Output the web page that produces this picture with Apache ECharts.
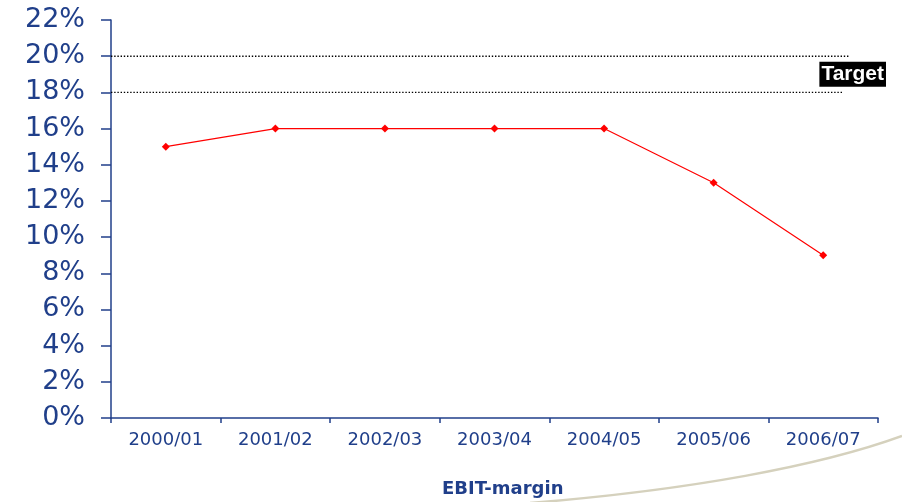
<!DOCTYPE html>
<html>
<head>
<meta charset="utf-8">
<script src="https://cdn.jsdelivr.net/npm/echarts@6/dist/echarts.min.js"></script>
<style>
  html, body { margin: 0; padding: 0; background: #fff; }
  #main { width: 902px; height: 502px; }
</style>
</head>
<body>
<div id="main"></div>
<script>
// data
var years = ["2000/01", "2001/02", "2002/03", "2003/04", "2004/05", "2005/06", "2006/07"];
var ebitMargin = [15, 16, 16, 16, 16, 13, 9];
var targetLow = 18;
var targetHigh = 20;
var yTicks = [0, 2, 4, 6, 8, 10, 12, 14, 16, 18, 20, 22];

var navy = "#203f8a";
var myChart = echarts.init(document.getElementById("main"));

var option = {
  animation: false,
  grid: { left: 111, right: 24, top: 20, bottom: 84 },
  xAxis: [
    {
      type: "category",
      data: years,
      boundaryGap: true,
      axisLine: { lineStyle: { color: navy, width: 1.5 } },
      axisTick: { show: true, length: 5, lineStyle: { color: navy, width: 1.5 } },
      axisLabel: { color: navy, fontSize: 18, margin: 13, fontFamily: "DejaVu Sans" }
    },
    {
      // hidden helper axis for the target lines
      type: "value",
      min: 0,
      max: 7,
      show: false
    }
  ],
  yAxis: {
    type: "value",
    min: yTicks[0],
    max: yTicks[yTicks.length - 1],
    interval: 2,
    splitLine: { show: false },
    axisLine: { show: true, lineStyle: { color: navy, width: 1.5 } },
    axisTick: { show: true, inside: false, length: 10, lineStyle: { color: navy, width: 1.5 } },
    axisLabel: {
      color: navy,
      fontSize: 27,
      margin: 26,
      fontFamily: "DejaVu Sans",
      formatter: function (v) { return v + "%"; }
    }
  },
  series: [
    {
      name: "20%",
      type: "line",
      xAxisIndex: 1,
      symbol: "none",
      silent: true,
      lineStyle: { color: "#000", width: 1.4, type: [1.4, 1.8] },
      data: [[0, targetHigh], [6.73, targetHigh]]
    },
    {
      name: "18%",
      type: "line",
      xAxisIndex: 1,
      symbol: "none",
      silent: true,
      lineStyle: { color: "#000", width: 1.4, type: [1.4, 1.8] },
      data: [[0, targetLow], [6.68, targetLow]]
    },
    {
      name: "Target",
      type: "scatter",
      xAxisIndex: 1,
      symbolSize: 0,
      silent: true,
      itemStyle: { opacity: 1 },
      label: {
        show: true,
        position: "right",
        distance: 0,
        formatter: "Target",
        color: "#fff",
        backgroundColor: "#000",
        fontWeight: "bold",
        fontSize: 21,
        fontFamily: "Liberation Sans",
        padding: [3, 2, 1, 2]
      },
      data: [[6.465, (targetLow + targetHigh) / 2]]
    },
    {
      name: "EBIT-margin",
      type: "line",
      symbol: "diamond",
      symbolSize: 8,
      itemStyle: { color: "#ff0000" },
      lineStyle: { color: "#ff0000", width: 1.2 },
      data: ebitMargin
    }
  ],
  graphic: [
    {
      type: "bezierCurve",
      silent: true,
      shape: { x1: 530, y1: 503, x2: 902, y2: 436, cpx1: 690, cpy1: 490, cpx2: 820, cpy2: 466 },
      style: { stroke: "#d5d1bd", lineWidth: 2.5, fill: null }
    },
    {
      type: "text",
      left: 442,
      top: 480,
      style: {
        text: "EBIT-margin",
        fill: navy,
        font: "bold 18px DejaVu Sans"
      }
    }
  ]
};

myChart.setOption(option);
</script>
</body>
</html>
